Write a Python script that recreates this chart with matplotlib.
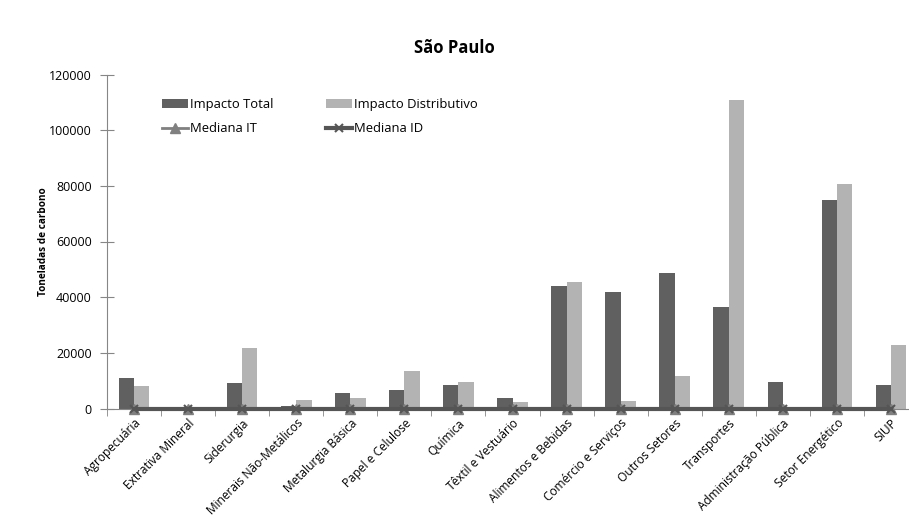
import matplotlib
matplotlib.use("Agg")
import matplotlib.pyplot as plt
import numpy as np

categories = ["Agropecuária", "Extrativa Mineral", "Siderurgia", "Minerais Não-Metálicos",
              "Metalurgia Básica", "Papel e Celulose", "Química", "Têxtil e Vestuário",
              "Alimentos e Bebidas", "Comércio e Serviços", "Outros Setores", "Transportes",
              "Administração Pública", "Setor Energético", "SIUP"]
impacto_total = [11100, 150, 9000, 1000, 5650, 6700, 8600, 3600,
                 44000, 42000, 48600, 36600, 9400, 75000, 8500]
impacto_distributivo = [8150, 100, 21800, 3200, 3950, 13300, 9700, 2200,
                        45400, 2800, 11600, 110800, 350, 80700, 22900]
mediana_it = [0] * 15
mediana_id = [0] * 15
yticks = [0, 20000, 40000, 60000, 80000, 100000, 120000]

plt.rcParams['font.family'] = ['Open Sans', 'DejaVu Sans']

fig = plt.figure(figsize=(9.09, 5.22), dpi=100)
ax = fig.add_axes([107/909, 1 - 408.5/522, 811/909, 334/522])

x = np.arange(len(categories))
w = 0.283
b1 = ax.bar(x - w/2, impacto_total, w, color="#606060", label="Impacto Total", zorder=2)
b2 = ax.bar(x + w/2, impacto_distributivo, w, color="#b3b3b3", label="Impacto Distributivo", zorder=2)
l1, = ax.plot(x, mediana_it, color="#808080", marker="^", markersize=7, lw=2,
              label="Mediana IT", zorder=3, clip_on=False)
l2, = ax.plot(x, mediana_id, color="#555555", marker="x", markersize=6, mew=1.5, lw=3,
              label="Mediana ID", zorder=4, clip_on=False)

ax.set_xlim(-0.5, len(categories) - 0.5)
ax.set_ylim(0, 120000)
ax.set_yticks(yticks)
ax.set_yticklabels([str(v) for v in yticks], fontsize=9)
ax.set_xticks(x)
ax.set_xticklabels(categories, rotation=45, ha="right", rotation_mode="anchor", fontsize=8.6)
ax.tick_params(axis="x", length=0, pad=6)
ax.set_xticks(np.arange(-0.5, len(categories), 1), minor=True)
ax.tick_params(axis="x", which="minor", length=5, color="#868686", direction="out")
ax.tick_params(axis="y", length=10, direction="inout", color="#868686", pad=6)

for s in ["top", "right"]:
    ax.spines[s].set_visible(False)
for s in ["left", "bottom"]:
    ax.spines[s].set_color("#868686")

ax.set_ylabel("Toneladas de carbono", fontsize=7.2, fontweight="bold", labelpad=0)

fig.text(0.5, 1 - 48/522, "São Paulo", ha="center", va="center", fontsize=12, fontweight="bold")

handles = [b1, l1, b2, l2]
labels = [h.get_label() for h in handles]
leg = ax.legend(handles, labels, ncol=2, frameon=False, fontsize=9.4,
                loc="upper left", bbox_to_anchor=(157/909, 1 - 93/522),
                bbox_transform=fig.transFigure, handlelength=2.0, handletextpad=0.15,
                columnspacing=4.0, labelspacing=0.85, borderaxespad=0)

fig.savefig("out.png", dpi=100)
